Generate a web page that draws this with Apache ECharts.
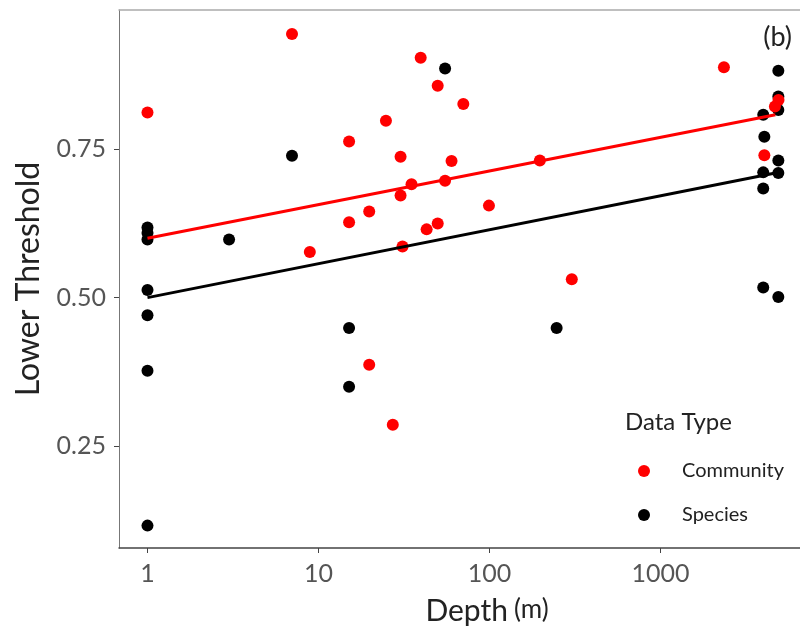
<!DOCTYPE html>
<html>
<head>
<meta charset="utf-8">
<script src="https://cdn.jsdelivr.net/npm/echarts@6/dist/echarts.min.js"></script>
<style>html,body{margin:0;padding:0;background:#fff}#c{width:800px;height:628px}</style>
</head>
<body>
<div id="c"></div>
<script>
// Community data (depth m, lower threshold)
const communityX = [1, 7.0, 39.6, 49.8, 24.8, 15.1, 30.2, 60, 35, 55, 30.2, 19.8, 15.1, 42.9, 49.8, 8.9, 31, 70.3, 2350, 4900, 4670, 4050, 197, 99.3, 303, 19.8, 27.2];
const communityY = [0.812, 0.944, 0.904, 0.857, 0.798, 0.763, 0.7375, 0.730, 0.691, 0.697, 0.672, 0.645, 0.627, 0.615, 0.625, 0.577, 0.586, 0.826, 0.888, 0.833, 0.822, 0.740, 0.731, 0.655, 0.531, 0.387, 0.286];
// Species data
const speciesX = [1, 1, 1, 1, 1, 1, 1, 3.0, 7.0, 55, 15.1, 15.1, 247, 4890, 4890, 4890, 3990, 4050, 4890, 4890, 3990, 3990, 3990, 4890];
const speciesY = [0.618, 0.609, 0.598, 0.513, 0.4705, 0.377, 0.116, 0.598, 0.739, 0.886, 0.449, 0.350, 0.449, 0.882, 0.839, 0.816, 0.808, 0.771, 0.731, 0.710, 0.711, 0.684, 0.517, 0.501];
// Fitted regression lines (endpoints)
const fitX = [1, 4700];
const communityFit = [0.600, 0.808];
const speciesFit = [0.500, 0.710];
// Tick labels
const xTicks = [1, 10, 100, 1000];
const yTicks = [0.25, 0.5, 0.75];

const zip = (xs, ys) => xs.map((x, i) => [x, ys[i]]);
const FONT = 'Lato';
const XMIN = 0.6814, XMAX = 6546;
const chart = echarts.init(document.getElementById('c'), null, {renderer: 'canvas'});
chart.setOption({
  animation: false,
  backgroundColor: '#fff',
  textStyle: {fontFamily: FONT},
  title: [
    {text: '(b)', right: 3, top: 19, textStyle: {fontFamily: FONT, fontSize: 27, fontWeight: 'normal', color: '#222'}},
    {text: 'Data Type', left: 620, top: 405, textStyle: {fontFamily: FONT, fontSize: 24, fontWeight: 'normal', color: '#222'}}
  ],
  legend: {
    orient: 'vertical', left: 633, top: 456,
    itemWidth: 12, itemHeight: 12, itemGap: 24,
    icon: 'circle',
    textStyle: {fontFamily: FONT, fontSize: 20, lineHeight: 20, color: '#222', padding: [0, 0, 0, 27]},
    data: ['Community', 'Species']
  },
  grid: {left: 119, right: 0, top: 10, bottom: 80, show: false, outerBoundsMode: 'none', containLabel: false},
  xAxis: [{
    type: 'log', logBase: 10, min: XMIN, max: XMAX,
    name: '{a|Depth}{b|(m)}', nameLocation: 'middle', nameGap: 48,
    nameTextStyle: {padding: [0, 0, 0, 55], rich: {a: {fontFamily: FONT, fontSize: 30, color: '#222'}, b: {fontFamily: FONT, fontSize: 26, color: '#222', padding: [0, 0, 3, 6]}}},
    axisLine: {show: true, lineStyle: {color: '#444', width: 1.5}},
    axisTick: {show: true, length: 5, customValues: xTicks, lineStyle: {color: '#444'}},
    axisLabel: {customValues: xTicks, fontFamily: FONT, fontSize: 25, color: '#555', margin: 13, formatter: v => String(Math.round(v))},
    splitLine: {show: false}
  }, {
    type: 'log', logBase: 10, min: XMIN, max: XMAX, position: 'top',
    axisLine: {show: true, lineStyle: {color: '#aaa', width: 1.5}},
    axisTick: {show: false}, axisLabel: {show: false}, splitLine: {show: false}
  }],
  yAxis: {
    type: 'value', min: 0.0783, max: 0.9845,
    name: 'Lower Threshold', nameLocation: 'middle', nameGap: 74,
    nameTextStyle: {fontFamily: FONT, fontSize: 32, color: '#222'},
    axisLine: {show: true, lineStyle: {color: '#777', width: 1}},
    axisTick: {show: true, length: 5, customValues: yTicks, lineStyle: {color: '#444'}},
    axisLabel: {customValues: yTicks, fontFamily: FONT, fontSize: 25, color: '#555', margin: 13, formatter: v => v.toFixed(2)},
    splitLine: {show: false}
  },
  series: [
    {name: 'Species', type: 'scatter', symbolSize: 12, itemStyle: {color: '#000', opacity: 1}, data: zip(speciesX, speciesY), z: 2},
    {name: 'Community', type: 'scatter', symbolSize: 12, itemStyle: {color: '#ff0000', opacity: 1}, data: zip(communityX, communityY), z: 3},
    {name: 'Species', type: 'line', showSymbol: false, symbol: 'none', lineStyle: {color: '#000', width: 3}, data: zip(fitX, speciesFit), z: 4},
    {name: 'Community', type: 'line', showSymbol: false, symbol: 'none', lineStyle: {color: '#ff0000', width: 3}, data: zip(fitX, communityFit), z: 4}
  ]
});
</script>
</body>
</html>
